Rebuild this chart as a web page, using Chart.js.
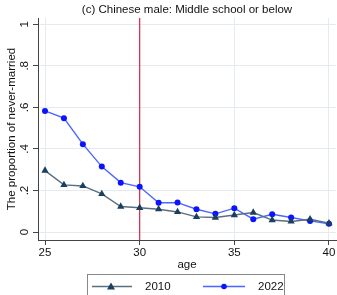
<!DOCTYPE html>
<html><head><meta charset="utf-8">
<script src="https://cdn.jsdelivr.net/npm/chart.js@4.4.1/dist/chart.umd.min.js"></script>
<style>html,body{margin:0;padding:0;background:#fff;}#wrap{width:337px;height:295px;}</style>
</head><body><div id="wrap"><canvas id="c" width="337" height="295"></canvas></div>
<script>
const titleText = "(c) Chinese male: Middle school or below";
const xTitle = "age";
const yTitle = "The proportion of never-married";
const ages = [25,26,27,28,29,30,31,32,33,34,35,36,37,38,39,40];
const s2010 = [0.296,0.227,0.222,0.184,0.123,0.117,0.110,0.097,0.073,0.070,0.082,0.094,0.058,0.051,0.062,0.043];
const s2022 = [0.583,0.548,0.423,0.315,0.238,0.218,0.141,0.142,0.110,0.088,0.115,0.062,0.086,0.070,0.054,0.040];
const xTicks = [25,30,35,40];
const yTicks = [0,0.2,0.4,0.6,0.8,1];
const yTickLabels = ["0",".2",".4",".6",".8","1"];
const vlineX = 30;
const labels = ["2010","2022"];

const FONT = "'Liberation Sans', Arial, Helvetica, sans-serif";

const decor = {
  id:'decor',
  beforeDatasetsDraw(chart){
    const ctx = chart.ctx, a = chart.chartArea, xs = chart.scales.x;
    const px = xs.getPixelForValue(vlineX);
    ctx.save();
    ctx.strokeStyle = '#d6264a'; ctx.lineWidth = 1.2;
    ctx.beginPath(); ctx.moveTo(px, a.top); ctx.lineTo(px, a.bottom); ctx.stroke();
    ctx.restore();
  },
  afterDraw(chart){
    const ctx = chart.ctx, a = chart.chartArea;
    ctx.save();
    ctx.fillStyle = '#111'; ctx.font = "11.5px " + FONT; ctx.textAlign='center'; ctx.textBaseline='middle';
    ctx.fillText(titleText, (a.left + a.right)/2, 10);
    ctx.strokeStyle = '#888'; ctx.lineWidth = 1;
    ctx.strokeRect(87.5, 274.5, 197, 30);
    const y = 286.5;
    const ds = chart.data.datasets;
    ctx.strokeStyle = ds[0].borderColor; ctx.lineWidth = 1.3;
    ctx.beginPath(); ctx.moveTo(92,y); ctx.lineTo(132,y); ctx.stroke();
    ctx.fillStyle = ds[0].pointBackgroundColor;
    ctx.beginPath(); ctx.moveTo(111, y-4); ctx.lineTo(115, y+3); ctx.lineTo(107, y+3); ctx.closePath(); ctx.fill();
    ctx.strokeStyle = ds[1].borderColor;
    ctx.beginPath(); ctx.moveTo(203,y); ctx.lineTo(245,y); ctx.stroke();
    ctx.fillStyle = ds[1].pointBackgroundColor;
    ctx.beginPath(); ctx.arc(224, y, 2.8, 0, Math.PI*2); ctx.fill();
    ctx.fillStyle = '#111'; ctx.font = "11.5px " + FONT; ctx.textAlign='left';
    ctx.fillText(ds[0].label, 145, y);
    ctx.fillText(ds[1].label, 258, y);
    ctx.restore();
  }
};

new Chart(document.getElementById('c'), {
  type:'line',
  data:{
    datasets:[
      {label:labels[0], data: ages.map((a,i)=>({x:a,y:s2010[i]})), borderColor:'#5a6f7e', borderWidth:1.4,
       pointStyle:'triangle', pointRadius:4.2, pointBackgroundColor:'#1b3f5e', pointBorderColor:'#1b3f5e', pointBorderWidth:0, tension:0},
      {label:labels[1], data: ages.map((a,i)=>({x:a,y:s2022[i]})), borderColor:'#4a66ff', borderWidth:1.4,
       pointStyle:'circle', pointRadius:3, pointBackgroundColor:'#0a14ff', pointBorderColor:'#0a14ff', pointBorderWidth:0, tension:0}
    ]
  },
  options:{
    responsive:false, animation:false, devicePixelRatio:1,
    layout:{autoPadding:false, padding:{top:18,left:0,right:1,bottom:23}},
    plugins:{legend:{display:false}, title:{display:false}, tooltip:{enabled:false}},
    scales:{
      x:{type:'linear', min:24.63, max:40.37,
         afterBuildTicks(s){ s.ticks = xTicks.map(v=>({value:v})); },
         afterFit(s){ s.height = 32; s.paddingLeft = 0; s.paddingRight = 0; },
         grid:{color:'#e3ebf0', lineWidth:1, drawTicks:true, tickLength:5, tickColor:'#444'},
         border:{display:true, color:'#444', width:1},
         ticks:{color:'#111', font:{family:FONT, size:11.5}, padding:1, maxRotation:0, autoSkip:false,
                callback:(v)=>String(v)},
         title:{display:true, text:xTitle, color:'#111', font:{family:FONT,size:11.5}, padding:{top:0,bottom:0}}
      },
      y:{type:'linear', min:-0.038, max:1.03,
         afterBuildTicks(s){ s.ticks = yTicks.map(v=>({value:v})); },
         afterFit(s){ s.width = 38; s.paddingTop = 0; s.paddingBottom = 0; },
         grid:{color:'#e3ebf0', lineWidth:1, drawTicks:true, tickLength:5, tickColor:'#444'},
         border:{display:true, color:'#444', width:1},
         ticks:{color:'#111', font:{family:FONT, size:11.5}, padding:3, minRotation:90, maxRotation:90, crossAlign:'center', autoSkip:false,
                callback:(v)=>{ const i = yTicks.findIndex(t=>Math.abs(t-v)<1e-9); return i>=0? yTickLabels[i] : ''; }},
         title:{display:true, text:yTitle, color:'#111', font:{family:FONT,size:11.5}, padding:{top:5,bottom:0}}
      }
    }
  },
  plugins:[decor]
});
</script></body></html>
